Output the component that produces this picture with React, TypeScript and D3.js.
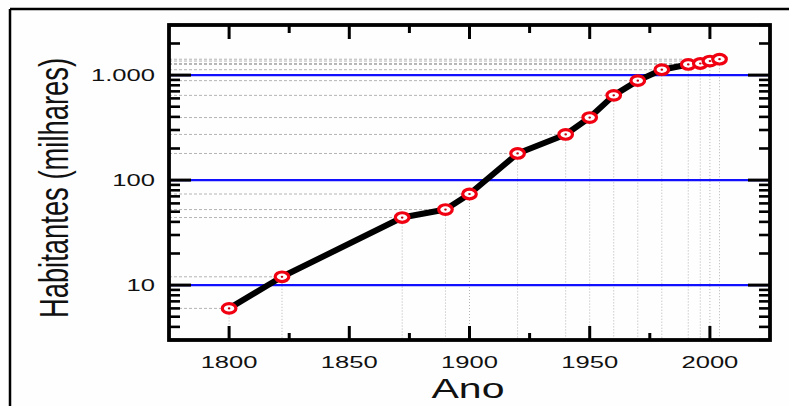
import React from "react";
import * as d3 from "d3";

// Population (thousands of inhabitants) by census year
const years = [1800, 1822, 1872, 1890, 1900, 1920, 1940, 1950, 1960, 1970, 1980, 1991, 1996, 2000, 2004];
const habitantes = [6, 12, 44, 52.4, 73.7, 179.3, 272.2, 394.2, 641.2, 885.5, 1125.5, 1263.4, 1288.9, 1360.6, 1416.4];

const xMajorTicks = [1800, 1850, 1900, 1950, 2000];
const xMinorTicks = [1825, 1875, 1925, 1975];
const yMajorTicks = [10, 100, 1000];
const yMajorLabels = ["10", "100", "1.000"];

const W = 789;
const H = 406;
const FONT = "'Liberation Sans', Arial, Helvetica, sans-serif";

// approximate Arial advance widths, used to set textLength for the wide text look
const charW = (s: string) =>
  s.split("").reduce((a, c) => a + (c === "." ? 0.278 : 0.556), 0);

export default function App() {
  const left = 169, right = 770, top = 25, bottom = 340;
  const x = d3.scaleLinear().domain([1775, 2025]).range([left, right]);
  const y = d3.scaleLog().domain([3, 3000]).range([bottom, top]);

  const pts = years.map((yr, i) => ({ yr, v: habitantes[i] }));
  const line = d3
    .line<{ yr: number; v: number }>()
    .x((d) => x(d.yr))
    .y((d) => y(d.v));

  // minor log ticks 2..9 per decade within the domain
  const yMinor: number[] = [];
  [1, 10, 100, 1000].forEach((dec) => {
    for (let k = 2; k <= 9; k++) {
      const v = dec * k;
      if (v >= 3 && v <= 3000) yMinor.push(v);
    }
  });

  const labelSize = 16.3;
  const stretch = 1.57;

  return (
    <svg
      width={W}
      height={H}
      style={{ position: "absolute", left: 0, top: 0, background: "#fefefe" }}
    >
      <rect x={0} y={0} width={W} height={H} fill="#fefefe" />
      {/* outer frame */}
      <line x1={10} y1={9} x2={W} y2={9} stroke="#000" strokeWidth={2.5} />
      <line x1={10} y1={9} x2={10} y2={H} stroke="#000" strokeWidth={2.5} />

      {/* reference lines from each point to the axes */}
      {pts.map((d, i) => (
        <g key={"ref" + i}>
          <line
            x1={left}
            x2={x(d.yr)}
            y1={y(d.v)}
            y2={y(d.v)}
            stroke="#b4b4b4"
            strokeWidth={1}
            strokeDasharray="3,2"
          />
          <line
            x1={x(d.yr)}
            x2={x(d.yr)}
            y1={y(d.v)}
            y2={bottom}
            stroke="#b4b4b4"
            strokeWidth={1}
            strokeDasharray="1,2"
          />
        </g>
      ))}

      {/* blue decade lines */}
      {yMajorTicks.map((v) => (
        <line
          key={"b" + v}
          x1={left}
          x2={right}
          y1={y(v)}
          y2={y(v)}
          stroke="#1010ff"
          strokeWidth={2.3}
        />
      ))}

      {/* y ticks, both sides */}
      {yMajorTicks.map((v) => (
        <g key={"ym" + v}>
          <line x1={left} x2={left + 22} y1={y(v)} y2={y(v)} stroke="#000" strokeWidth={3} />
          <line x1={right - 22} x2={right} y1={y(v)} y2={y(v)} stroke="#000" strokeWidth={3} />
        </g>
      ))}
      {yMinor.map((v) => (
        <g key={"yn" + v}>
          <line x1={left} x2={left + 11} y1={y(v)} y2={y(v)} stroke="#000" strokeWidth={2.6} />
          <line x1={right - 11} x2={right} y1={y(v)} y2={y(v)} stroke="#000" strokeWidth={2.6} />
        </g>
      ))}

      {/* x ticks, top and bottom */}
      {xMajorTicks.map((v) => (
        <g key={"xm" + v}>
          <line x1={x(v)} x2={x(v)} y1={top} y2={top + 14} stroke="#000" strokeWidth={3} />
          <line x1={x(v)} x2={x(v)} y1={bottom} y2={bottom - 14} stroke="#000" strokeWidth={3} />
        </g>
      ))}
      {xMinorTicks.map((v) => (
        <g key={"xn" + v}>
          <line x1={x(v)} x2={x(v)} y1={top} y2={top + 8} stroke="#000" strokeWidth={3} />
          <line x1={x(v)} x2={x(v)} y1={bottom} y2={bottom - 7} stroke="#000" strokeWidth={3} />
        </g>
      ))}

      {/* plot frame */}
      <rect
        x={left}
        y={top}
        width={right - left}
        height={bottom - top}
        fill="none"
        stroke="#000"
        strokeWidth={3.8}
      />

      {/* tick labels */}
      {xMajorTicks.map((v) => {
        const s = String(v);
        return (
          <text
            key={"xl" + v}
            x={x(v)}
            y={368}
            textAnchor="middle"
            fontFamily={FONT}
            fontSize={labelSize}
            textLength={charW(s) * labelSize * stretch}
            lengthAdjust="spacingAndGlyphs"
            fill="#111"
          >
            {s}
          </text>
        );
      })}
      {yMajorTicks.map((v, i) => {
        const s = yMajorLabels[i];
        const len = charW(s) * labelSize * stretch;
        return (
          <text
            key={"yl" + v}
            x={155 - len}
            y={y(v) + 6}
            fontFamily={FONT}
            fontSize={labelSize}
            textLength={len}
            lengthAdjust="spacingAndGlyphs"
            fill="#111"
          >
            {s}
          </text>
        );
      })}

      {/* axis titles */}
      <text
        x={468}
        y={398}
        textAnchor="middle"
        fontFamily={FONT}
        fontSize={28}
        textLength={73}
        lengthAdjust="spacingAndGlyphs"
        fill="#111"
      >
        Ano
      </text>
      <text
        transform="translate(68,188) scale(1.5,1) rotate(-90)"
        textAnchor="middle"
        fontFamily={FONT}
        fontSize={27.4}
        fill="#111"
      >
        Habitantes (milhares)
      </text>

      {/* data line */}
      <path d={line(pts) || ""} fill="none" stroke="#000" strokeWidth={6} strokeLinejoin="round" />

      {/* markers */}
      {pts.map((d, i) => (
        <g key={"m" + i}>
          <ellipse
            cx={x(d.yr)}
            cy={y(d.v)}
            rx={6.8}
            ry={4.8}
            fill="#fff"
            stroke="#f00010"
            strokeWidth={3.2}
          />
          <ellipse cx={x(d.yr)} cy={y(d.v)} rx={1.3} ry={1.1} fill="#c00010" />
        </g>
      ))}
    </svg>
  );
}
